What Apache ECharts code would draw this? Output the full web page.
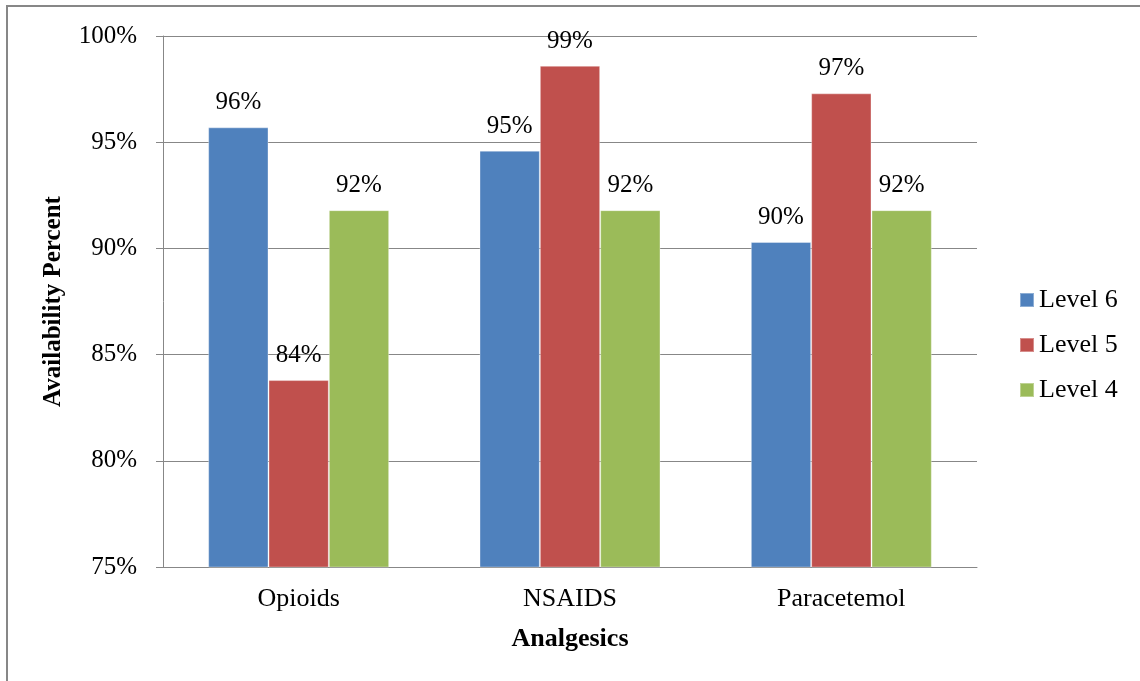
<!DOCTYPE html>
<html>
<head>
<meta charset="utf-8">
<script src="https://cdn.jsdelivr.net/npm/echarts@6/dist/echarts.min.js"></script>
<style>
  html, body { margin: 0; padding: 0; background: #fff; }
  #chart { width: 1140px; height: 681px; }
</style>
</head>
<body>
<div id="chart"></div>
<script>
// Analgesic availability by facility level
const categories = ['Opioids', 'NSAIDS', 'Paracetemol'];
const level6 = [95.7, 94.6, 90.3];
const level5 = [83.8, 98.6, 97.3];
const level4 = [91.8, 91.8, 91.8];
const seriesNames = ['Level 6', 'Level 5', 'Level 4'];
const seriesColors = ['#4F81BD', '#C0504D', '#9BBB59'];

const FONT = '"Liberation Serif", "Times New Roman", serif';
const GRID_GRAY = '#878787';

const chart = echarts.init(document.getElementById('chart'), null, { renderer: 'canvas' });

function barSeries(name, data, color) {
  return {
    name: name,
    type: 'bar',
    data: data,
    barGap: '0%',
    barCategoryGap: '33.3%',
    itemStyle: { color: color, borderColor: 'rgba(255,255,255,0.35)', borderWidth: 1 },
    label: {
      show: true,
      position: 'top',
      distance: 12,
      color: '#000',
      fontFamily: FONT,
      fontSize: 25,
      formatter: p => Math.round(p.value) + '%'
    }
  };
}

chart.setOption({
  backgroundColor: '#fff',
  animation: false,
  textStyle: { fontFamily: FONT, color: '#000' },
  grid: { left: 163, right: 163, top: 36, bottom: 114, containLabel: false },
  legend: {
    orient: 'vertical',
    left: 1019,
    top: 287,
    padding: 0,
    itemWidth: 14,
    itemHeight: 14,
    itemGap: 19,
    icon: 'rect',
    textStyle: { fontFamily: FONT, fontSize: 26, color: '#000' },
    data: seriesNames
  },
  xAxis: {
    type: 'category',
    data: categories,
    name: 'Analgesics',
    nameLocation: 'middle',
    nameGap: 59,
    nameTextStyle: { fontFamily: FONT, fontSize: 26, fontWeight: 'bold', color: '#000' },
    axisLine: { show: true, lineStyle: { color: GRID_GRAY, width: 1 } },
    axisTick: { show: false },
    axisLabel: { fontFamily: FONT, fontSize: 26, color: '#000', margin: 19 }
  },
  yAxis: {
    type: 'value',
    min: 75,
    max: 100,
    interval: 5,
    name: 'Availability Percent',
    nameLocation: 'middle',
    nameGap: 97,
    nameTextStyle: { fontFamily: FONT, fontSize: 25, fontWeight: 'bold', color: '#000' },
    axisLine: { show: true, lineStyle: { color: GRID_GRAY, width: 1 } },
    axisTick: { show: true, inside: false, length: 7, lineStyle: { color: GRID_GRAY } },
    splitLine: { show: true, lineStyle: { color: GRID_GRAY, width: 1 } },
    axisLabel: { fontFamily: FONT, fontSize: 25, color: '#000', margin: 26, formatter: '{value}%' }
  },
  graphic: [
    {
      type: 'rect',
      shape: { x: 7, y: 6, width: 1300, height: 900 },
      style: { fill: 'none', stroke: GRID_GRAY, lineWidth: 2 },
      silent: true,
      z: 0
    }
  ],
  series: [
    barSeries(seriesNames[0], level6, seriesColors[0]),
    barSeries(seriesNames[1], level5, seriesColors[1]),
    barSeries(seriesNames[2], level4, seriesColors[2])
  ]
});
</script>
</body>
</html>
